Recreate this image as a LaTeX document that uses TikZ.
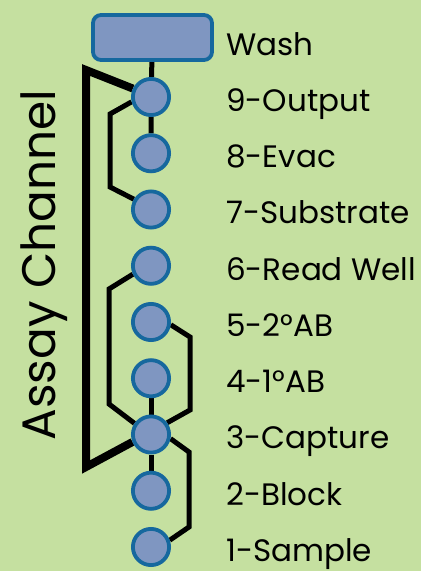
\documentclass[tikz,border=0pt]{standalone}
\usepackage{fontspec}
\setmainfont{Poppins}
\usetikzlibrary{backgrounds}
\definecolor{leaf}{RGB}{197,224,160}
\definecolor{portfill}{RGB}{127,150,193}
\definecolor{portline}{RGB}{22,104,158}

\begin{document}
\begin{tikzpicture}[x = 1pt, y = -1pt,
        port/.style = {circle, draw = portline, fill = portfill, line width = 3.8pt, minimum size = 36.2pt, inner sep = 0pt},
        wash/.style = {rectangle, rounded corners = 8pt, draw = portline, fill = portfill, line width = 3.8pt, minimum width = 119pt, minimum height = 45pt},
        lab/.style = {anchor = base west, inner sep = 0pt, font = \fontsize{31}{36}\selectfont},
        chan/.style = {line width = 5pt},
        bus/.style = {line width = 8pt}]
    \useasboundingbox (0, 0) rectangle (421, 571);
    \node [wash] (W) at (152.5, 37.5) {};
    \path
        (151, 97) node [port] (C9) {}
        ++(0, 56.25) node [port] (C8) {}
        ++(0, 56.25) node [port] (C7) {}
        ++(0, 56.25) node [port] (C6) {}
        ++(0, 56.25) node [port] (C5) {}
        ++(0, 56.25) node [port] (C4) {}
        ++(0, 56.25) node [port] (C3) {}
        ++(0, 56.25) node [port] (C2) {}
        ++(0, 56.25) node [port] (C1) {};
    \path
        (226, 55) node [lab] (LW) {Wash}
        ++(0, 56.25) node [lab] (L9) {9-Output}
        ++(0, 56.25) node [lab] (L8) {8-Evac}
        ++(0, 56.25) node [lab] (L7) {7-Substrate}
        ++(0, 56.25) node [lab] (L6) {6-Read Well}
        ++(0, 56.25) node [lab] (L5) {5-2°AB}
        ++(0, 56.25) node [lab] (L4) {4-1°AB}
        ++(0, 56.25) node [lab] (L3) {3-Capture}
        ++(0, 56.25) node [lab] (L2) {2-Block}
        ++(0, 56.25) node [lab] (L1) {1-Sample};
    \node [rotate = 90, anchor = base, inner sep = 0pt, font = \fontsize{47}{52}\selectfont] (AC) at (55, 265) {Assay Channel};
    \begin{scope}[on background layer]
        \fill [leaf] (0, 0) rectangle (421, 571);
        \draw [chan] (W) -- (C9) -- (C8);
        \draw [chan] (C4) -- (C3) -- (C2);
        \draw [bus] (C9.155) -- (86, 70) -- (86, 467) -- (C3.202); % outer loop
        \draw [chan] (C9.194) -- (110, 114) -- (110, 187) -- (C7.149);
        \draw [chan] (C6.205) -- (109, 289) -- (109, 404) -- (C3.146);
        \draw [chan] (C5.-8) -- (190, 337) -- (190, 410) -- (C3.36);
        \draw [chan] (C3.-12) -- (189, 452) -- (189, 527) -- (C1.20);
    \end{scope}
\end{tikzpicture}
\end{document}
